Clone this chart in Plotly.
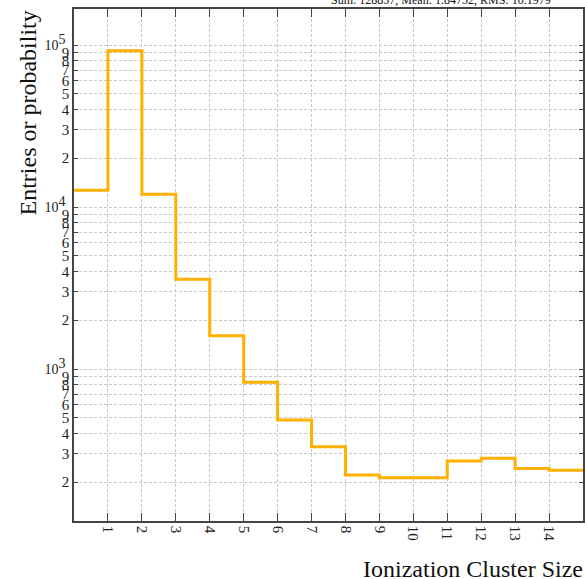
import plotly.graph_objects as go

# Ionization cluster size histogram (bins of width 1 starting at 0)
bin_low_edges = list(range(0, 15))
entries = [12680, 92200, 11980, 3580, 1606, 828, 484, 331, 222, 213, 213, 270, 281, 243, 237]
bin_upper_edge = 15

x_tick_vals = list(range(1, 15))
x_tick_text = [str(v) for v in x_tick_vals]

stats_text = "Sum: 128857, Mean: 1.84752, RMS: 10.1979"

# y ticks: every 1..9 within each decade, decades labelled as powers of ten
y_tick_vals = []
y_tick_text = []
for dec in [2, 3, 4, 5]:
    for m in range(1, 10):
        v = m * 10 ** dec
        y_tick_vals.append(v)
        if m == 1:
            y_tick_text.append(
                f"<span style='font-size:14px'>10</span>"
                f"<sup><span style='font-size:14px'>{dec}</span></sup>&nbsp;"
            )
        else:
            y_tick_text.append(str(m))

x_line = bin_low_edges + [bin_upper_edge]
y_line = entries + [entries[-1]]

fig = go.Figure()
fig.add_trace(go.Scatter(
    x=x_line, y=y_line, mode="lines",
    line=dict(color="#FFB000", width=3, shape="hv"),
    showlegend=False, hoverinfo="skip",
))

serif = "Liberation Serif, Times New Roman, serif"
axis_col = "#444444"
grid_col = "#c8c8c8"

fig.update_layout(
    width=585, height=579,
    margin=dict(l=74, r=0, t=9, b=58),
    paper_bgcolor="white", plot_bgcolor="white",
    font=dict(family=serif, color="#222222"),
    xaxis=dict(
        range=[0, 15],
        tickvals=x_tick_vals, ticktext=x_tick_text,
        tickangle=90, tickfont=dict(size=15, family=serif),
        ticks="inside", ticklen=8, tickcolor=axis_col, tickwidth=1,
        showline=True, linecolor=axis_col, linewidth=1.5, mirror="ticks",
        showgrid=True, gridcolor=grid_col, griddash="3px,2px", gridwidth=1,
        zeroline=False,
    ),
    yaxis=dict(
        type="log",
        range=[2.0617, 5.2222],
        tickvals=y_tick_vals, ticktext=y_tick_text,
        tickfont=dict(size=15, family=serif),
        ticks="inside", ticklen=4, tickcolor=axis_col, tickwidth=1,
        showline=True, linecolor=axis_col, linewidth=1.5, mirror="ticks",
        showgrid=True, gridcolor=grid_col, griddash="3px,2px", gridwidth=1,
        zeroline=False,
    ),
    annotations=[
        dict(text="Ionization Cluster Size", x=1.0, y=0, xref="paper", yref="paper",
             xanchor="right", yanchor="top", yshift=-33, xshift=2, showarrow=False,
             font=dict(size=24, family=serif, color="#111111")),
        dict(text="Entries or probability", x=0, y=1.0, xref="paper", yref="paper",
             xanchor="center", yanchor="top", xshift=-47, yshift=0, textangle=-90,
             showarrow=False, font=dict(size=24, family=serif, color="#111111")),
        dict(text=stats_text, x=0.722, y=1.0, xref="paper", yref="paper",
             xanchor="center", yanchor="middle", yshift=9, showarrow=False,
             font=dict(size=12, family=serif, color="#111111")),
    ],
)

fig.write_html("out.html")
